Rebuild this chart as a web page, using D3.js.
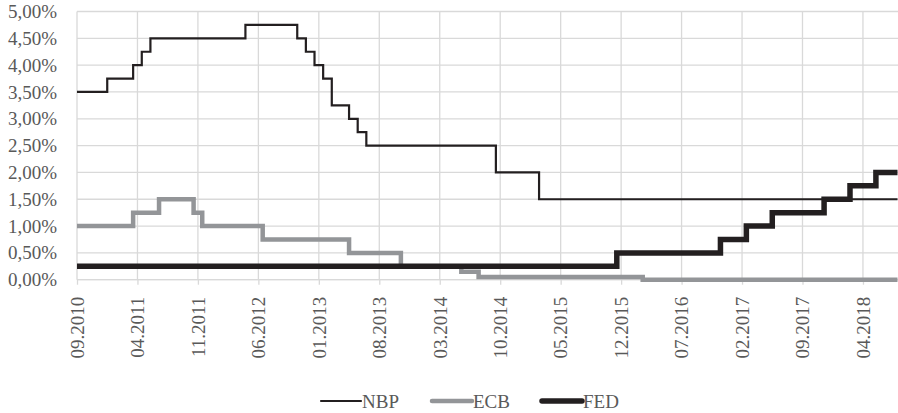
<!DOCTYPE html>
<html>
<head>
<meta charset="utf-8">
<script src="https://cdn.jsdelivr.net/npm/d3@7/dist/d3.min.js"></script>
<style>
  html, body { margin: 0; padding: 0; background: #fff; }
  svg { display: block; }
  text { font-family: "Liberation Serif", "Times New Roman", serif; fill: #595959; }
</style>
</head>
<body>
<svg id="chart" width="898" height="413"></svg>
<script>
// Monthly categories 09.2010 .. 08.2018
const startYear = 2010, startMonth = 9, monthCount = 96;
const months = [];
for (let i = 0; i < monthCount; i++) {
  const mm = (startMonth - 1 + i) % 12 + 1;
  const yy = startYear + Math.floor((startMonth - 1 + i) / 12);
  months.push((mm < 10 ? "0" : "") + mm + "." + yy);
}
const tickLabels = ["09.2010","04.2011","11.2011","06.2012","01.2013","08.2013","03.2014",
  "10.2014","05.2015","12.2015","07.2016","02.2017","09.2017","04.2018"];
const yTicks = [0,0.5,1,1.5,2,2.5,3,3.5,4,4.5,5];

const nbp = [
  3.5,3.5,3.5,3.5,3.75,3.75,3.75,4.0,4.25,4.5,
  4.5,4.5,4.5,4.5,4.5,4.5,4.5,4.5,4.5,4.5,
  4.75,4.75,4.75,4.75,4.75,4.75,4.5,4.25,4.0,3.75,
  3.25,3.25,3.0,2.75,2.5,2.5,2.5,2.5,2.5,2.5,
  2.5,2.5,2.5,2.5,2.5,2.5,2.5,2.5,2.5,2.0,
  2.0,2.0,2.0,2.0,1.5,1.5,1.5,1.5,1.5,1.5,
  1.5,1.5,1.5,1.5,1.5,1.5,1.5,1.5,1.5,1.5,
  1.5,1.5,1.5,1.5,1.5,1.5,1.5,1.5,1.5,1.5,
  1.5,1.5,1.5,1.5,1.5,1.5,1.5,1.5,1.5,1.5,
  1.5,1.5,1.5,1.5,1.5,1.5
];
const ecb = [
  1.0,1.0,1.0,1.0,1.0,1.0,1.0,1.25,1.25,1.25,
  1.5,1.5,1.5,1.5,1.25,1.0,1.0,1.0,1.0,1.0,
  1.0,1.0,0.75,0.75,0.75,0.75,0.75,0.75,0.75,0.75,
  0.75,0.75,0.5,0.5,0.5,0.5,0.5,0.5,0.25,0.25,
  0.25,0.25,0.25,0.25,0.25,0.15,0.15,0.05,0.05,0.05,
  0.05,0.05,0.05,0.05,0.05,0.05,0.05,0.05,0.05,0.05,
  0.05,0.05,0.05,0.05,0.05,0.05,0,0,0,0,
  0,0,0,0,0,0,0,0,0,0,
  0,0,0,0,0,0,0,0,0,0,
  0,0,0,0,0,0
];
const fed = [
  0.25,0.25,0.25,0.25,0.25,0.25,0.25,0.25,0.25,0.25,
  0.25,0.25,0.25,0.25,0.25,0.25,0.25,0.25,0.25,0.25,
  0.25,0.25,0.25,0.25,0.25,0.25,0.25,0.25,0.25,0.25,
  0.25,0.25,0.25,0.25,0.25,0.25,0.25,0.25,0.25,0.25,
  0.25,0.25,0.25,0.25,0.25,0.25,0.25,0.25,0.25,0.25,
  0.25,0.25,0.25,0.25,0.25,0.25,0.25,0.25,0.25,0.25,
  0.25,0.25,0.25,0.5,0.5,0.5,0.5,0.5,0.5,0.5,
  0.5,0.5,0.5,0.5,0.5,0.75,0.75,0.75,1.0,1.0,
  1.0,1.25,1.25,1.25,1.25,1.25,1.25,1.5,1.5,1.5,
  1.75,1.75,1.75,2.0,2.0,2.0
];
const seriesNames = ["NBP","ECB","FED"];
const seriesColors = ["#231f20","#939598","#231f20"];
const seriesWidths = [2.2,4.5,5.5];
const seriesData = [nbp, ecb, fed];

(function () {
const svg = d3.select("#chart");
const pLeft = 77, pRight = 897.5, pTop = 11.5, pBottom = 279.7;

const x = d3.scaleLinear().domain([0, monthCount - 1]).range([pLeft, pRight]);
const y = d3.scaleLinear().domain([0, 5]).range([pBottom, pTop]);

// horizontal grid
svg.append("g").selectAll("line").data(yTicks).join("line")
  .attr("x1", pLeft).attr("x2", 898)
  .attr("y1", d => y(d)).attr("y2", d => y(d))
  .attr("stroke", "#d9d9d9").attr("stroke-width", 1.3);

// vertical grid
const tickIdx = tickLabels.map(t => months.indexOf(t));
svg.append("g").selectAll("line").data(tickIdx).join("line")
  .attr("x1", d => x(d)).attr("x2", d => x(d))
  .attr("y1", pTop).attr("y2", pBottom)
  .attr("stroke", "#d9d9d9").attr("stroke-width", 1.3);

// x axis
const xAxis = d3.axisBottom(x).tickValues(tickIdx)
  .tickFormat(i => months[i]).tickSize(5).tickSizeOuter(0);
const gx = svg.append("g").attr("transform", `translate(0,${pBottom})`).call(xAxis);
gx.select(".domain").attr("stroke", "#d9d9d9").attr("stroke-width", 1.3)
  .attr("d", `M${pLeft},0H898`);
gx.selectAll(".tick line").attr("stroke", "#d9d9d9").attr("stroke-width", 1.3);
gx.selectAll(".tick text")
  .attr("font-size", 19).attr("fill", "#595959")
  .attr("text-anchor", "end")
  .attr("transform", "rotate(-90)")
  .attr("x", -17).attr("y", 0).attr("dy", "0.33em");

// y axis labels
const yAxis = d3.axisLeft(y).tickValues(yTicks)
  .tickFormat(d => d.toFixed(2).replace(".", ",") + "%").tickSize(0).tickPadding(20);
const gy = svg.append("g").attr("transform", `translate(${pLeft},0)`).call(yAxis);
gy.select(".domain").remove();
gy.selectAll(".tick text").attr("font-size", 19).attr("fill", "#595959");

// lines
const line = d3.line().x((d, i) => x(i)).y(d => y(d)).curve(d3.curveStep);
seriesData.forEach((arr, k) => {
  svg.append("path").datum(arr)
    .attr("fill", "none")
    .attr("stroke", seriesColors[k])
    .attr("stroke-width", seriesWidths[k])
    .attr("stroke-linejoin", "miter")
    .attr("d", line);
});

// legend
const legendX = [321, 432, 542];
const lg = svg.append("g");
seriesNames.forEach((name, k) => {
  lg.append("line")
    .attr("x1", legendX[k]).attr("x2", legendX[k] + 40)
    .attr("y1", 401).attr("y2", 401)
    .attr("stroke", seriesColors[k]).attr("stroke-width", seriesWidths[k])
    .attr("stroke-linecap", "round");
  lg.append("text")
    .attr("x", legendX[k] + 41).attr("y", 401).attr("dy", "0.35em")
    .attr("font-size", 19).attr("fill", "#595959").text(name);
});
})();
</script>
</body>
</html>
